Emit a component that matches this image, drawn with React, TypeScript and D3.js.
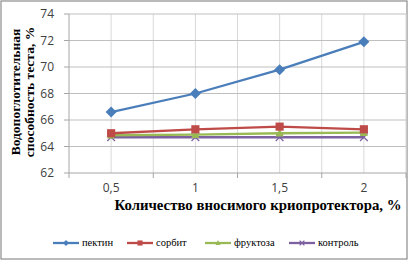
import React, { useEffect, useRef } from 'react';
import * as d3 from 'd3';

const categories = ['0,5', '1', '1,5', '2'];
const yTicks = [62, 64, 66, 68, 70, 72, 74];

const pectin = [66.6, 68.0, 69.8, 71.9];
const sorbit = [65.0, 65.3, 65.5, 65.3];
const fructose = [64.85, 64.9, 65.0, 65.05];
const control = [64.7, 64.7, 64.7, 64.7];

const seriesNames = ['пектин', 'сорбит', 'фруктоза', 'контроль'];
const seriesValues = [pectin, sorbit, fructose, control];
const colors = ['#4A7EBB', '#BE4B48', '#98B954', '#7D60A0'];
const markers = ['diamond', 'square', 'triangle', 'cross'];

const W = 409;
const H = 261;

const drawMarker = (g: any, type: string, x: number, y: number, color: string, s: number) => {
  if (type === 'diamond') {
    g.append('path')
      .attr('d', `M${x},${y - s}L${x + s},${y}L${x},${y + s}L${x - s},${y}Z`)
      .attr('fill', color);
  } else if (type === 'square') {
    g.append('rect')
      .attr('x', x - s * 0.85).attr('y', y - s * 0.85)
      .attr('width', s * 1.7).attr('height', s * 1.7)
      .attr('fill', color);
  } else if (type === 'triangle') {
    g.append('path')
      .attr('d', `M${x},${y - s}L${x + s * 0.85},${y + s * 0.7}L${x - s * 0.85},${y + s * 0.7}Z`)
      .attr('fill', color);
  } else {
    const k = s * 0.8;
    g.append('path')
      .attr('d', `M${x - k},${y - k}L${x + k},${y + k}M${x - k},${y + k}L${x + k},${y - k}`)
      .attr('stroke', color).attr('stroke-width', 1.3).attr('fill', 'none');
  }
};

const App = () => {
  const ref = useRef<SVGSVGElement>(null);

  useEffect(() => {
    const svg = d3.select(ref.current);
    svg.selectAll('*').remove();

    const left = 69, right = 406, top = 14, bottom = 173;

    const x = d3.scalePoint().domain(categories).range([left, right]).padding(0.5);
    const y = d3.scaleLinear().domain([62, 74]).range([bottom, top]);
    const step = x.step();

    svg.append('rect')
      .attr('x', 1).attr('y', 1).attr('width', W - 3).attr('height', H - 3)
      .attr('fill', '#fff').attr('stroke', '#8c8c8c').attr('stroke-width', 1.2);

    // vertical grid: at category centers and between them
    const vlines: number[] = [];
    categories.forEach((c, i) => {
      vlines.push(left + i * step);
      vlines.push(x(c) as number);
    });
    vlines.push(right);
    svg.append('g').selectAll('line').data(vlines.slice(1)).join('line')
      .attr('x1', d => d).attr('x2', d => d)
      .attr('y1', top).attr('y2', bottom)
      .attr('stroke', '#d9d9d9').attr('stroke-width', 1);

    // horizontal grid
    svg.append('g').selectAll('line').data(yTicks.slice(1)).join('line')
      .attr('x1', left).attr('x2', right)
      .attr('y1', d => y(d)).attr('y2', d => y(d))
      .attr('stroke', '#bfbfbf').attr('stroke-width', 1);

    // axes
    svg.append('line').attr('x1', left).attr('x2', left).attr('y1', top).attr('y2', bottom)
      .attr('stroke', '#a6a6a6');
    svg.append('line').attr('x1', left).attr('x2', right).attr('y1', bottom).attr('y2', bottom)
      .attr('stroke', '#a6a6a6');
    svg.append('g').selectAll('line').data(yTicks).join('line')
      .attr('x1', left - 5).attr('x2', left)
      .attr('y1', d => y(d)).attr('y2', d => y(d))
      .attr('stroke', '#a6a6a6');
    const bticks = categories.map((c, i) => left + i * step).concat([right]);
    svg.append('g').selectAll('line').data(bticks).join('line')
      .attr('x1', d => d).attr('x2', d => d)
      .attr('y1', bottom).attr('y2', bottom + 5)
      .attr('stroke', '#a6a6a6');

    svg.append('g').selectAll('text').data(yTicks).join('text')
      .attr('x', 54).attr('y', d => y(d)).attr('dy', '0.35em')
      .attr('text-anchor', 'end')
      .style('font-family', 'Open Sans, Liberation Sans, sans-serif')
      .style('font-size', '12px').attr('fill', '#404040')
      .text(d => d);

    svg.append('g').selectAll('text').data(categories).join('text')
      .attr('x', d => x(d) as number).attr('y', 192)
      .attr('text-anchor', 'middle')
      .style('font-family', 'Open Sans, Liberation Sans, sans-serif')
      .style('font-size', '12px').attr('fill', '#404040')
      .text(d => d);

    // titles
    const yt = svg.append('text')
      .attr('transform', 'translate(0,92) rotate(-90)')
      .attr('text-anchor', 'middle')
      .style('font-family', 'Liberation Serif, serif')
      .style('font-weight', 'bold').style('font-size', '13.5px').attr('fill', '#000');
    yt.append('tspan').attr('x', 0).attr('y', 20).text('Водопоглотительная');
    yt.append('tspan').attr('x', 0).attr('y', 34).text('способность теста, %');

    svg.append('text')
      .attr('x', 258).attr('y', 210).attr('text-anchor', 'middle')
      .style('font-family', 'Liberation Serif, serif')
      .style('font-weight', 'bold').style('font-size', '14.8px').attr('fill', '#000')
      .text('Количество вносимого криопротектора, %');

    // series
    const line = d3.line<number>()
      .x((d, i) => x(categories[i]) as number)
      .y(d => y(d));

    for (let s = seriesValues.length - 1; s >= 0; s--) {
      const g = svg.append('g');
      g.append('path')
        .attr('d', line(seriesValues[s]))
        .attr('fill', 'none').attr('stroke', colors[s]).attr('stroke-width', 2.3);
      seriesValues[s].forEach((v, i) => {
        drawMarker(g, markers[s], x(categories[i]) as number, y(v), colors[s], s === 0 ? 5.5 : 4.8);
      });
    }

    // legend
    const legendX = [53, 127, 205, 289];
    const ly = 243;
    seriesNames.forEach((name, i) => {
      const g = svg.append('g');
      g.append('line')
        .attr('x1', legendX[i]).attr('x2', legendX[i] + 26)
        .attr('y1', ly).attr('y2', ly)
        .attr('stroke', colors[i]).attr('stroke-width', 2.3);
      drawMarker(g, markers[i], legendX[i] + 13, ly, colors[i], 3);
      g.append('text')
        .attr('x', legendX[i] + 29).attr('y', ly).attr('dy', '0.32em')
        .style('font-family', 'Liberation Serif, serif')
        .style('font-size', '10.5px').attr('fill', '#000')
        .text(name);
    });
  }, []);

  return (
    <svg ref={ref} width={W} height={H}
      style={{ position: 'absolute', left: 0, top: 0, display: 'block' }} />
  );
};

export default App;
